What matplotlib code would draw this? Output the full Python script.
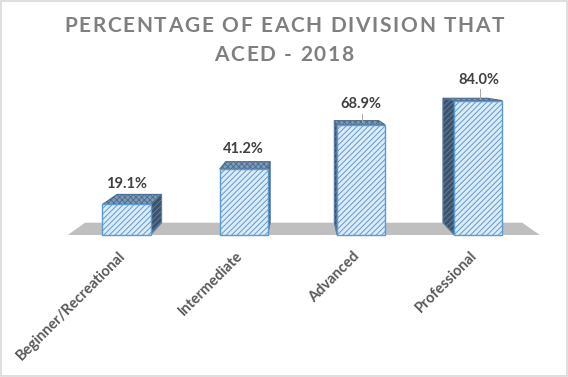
import matplotlib
matplotlib.use("Agg")
import matplotlib.pyplot as plt
from matplotlib.patches import Polygon, Rectangle
from matplotlib.font_manager import FontProperties

categories = ["Beginner/Recreational", "Intermediate", "Advanced", "Professional"]
values = [19.1, 41.2, 68.9, 84.0]
labels = ["19.1%", "41.2%", "68.9%", "84.0%"]
title = "PERCENTAGE OF EACH DIVISION THAT\nACED - 2018"

plt.rcParams["font.family"] = ["Lato", "DejaVu Sans"]
plt.rcParams["hatch.linewidth"] = 0.7

# fake 3D: back face = front face pulled toward a vanishing point
VX, VY = 1.48, 104.0
K = 0.074
BAR_W = 0.41


def back(pt, k=K):
    return (pt[0] + k * (VX - pt[0]), pt[1] + k * (VY - pt[1]))


fig = plt.figure(figsize=(5.68, 3.77), dpi=100)
ax = fig.add_axes([0, 0, 1, 1])
ax.set_xlim(-1.078, 3.764)
ax.set_ylim(-88.75, 146.9)
ax.axis("off")

# floor
fl = [(-0.5, 0), (3.525, 0)]
floor = [fl[0], fl[1], back(fl[1]), back(fl[0])]
ax.add_patch(Polygon(floor, closed=True, facecolor="#BFBFBF", edgecolor="none", zorder=1))

for i, v in enumerate(values):
    xl, xr = i - BAR_W / 2, i + BAR_W / 2
    ftl, ftr, fbl, fbr = (xl, v), (xr, v), (xl, 0), (xr, 0)
    # side face
    if i < VX:
        side = [fbr, ftr, back(ftr), back(fbr)]
    else:
        side = [fbl, ftl, back(ftl), back(fbl)]
    ax.add_patch(Polygon(side, closed=True, facecolor="#3E5266", edgecolor="#5B7FA6",
                         hatch="//////", linewidth=0.8, zorder=2))
    # top face
    top = [ftl, ftr, back(ftr), back(ftl)]
    ax.add_patch(Polygon(top, closed=True, facecolor="#7E9CB9", edgecolor="#4F6E8E",
                         hatch="xxxxxx", linewidth=0.8, zorder=3))
    # front face
    ax.add_patch(Rectangle((xl, 0), BAR_W, v, facecolor="#DDEBF7", edgecolor="#5B9BD5",
                           hatch="//////", linewidth=1.0, zorder=4))
    # value label
    ax.text(i, v + 8.5, labels[i], ha="center", va="bottom", fontsize=10.5,
            fontweight="bold", color="#404040", zorder=5)
    if v > 60:
        ax.plot([i + 0.01, i + 0.01], [v + 1.5, v + 7.0], color="#A6A6A6", lw=0.7, zorder=5)
    # category label
    ax.text(i - 0.07, -8.5, categories[i], ha="right", va="top", rotation=45,
            rotation_mode="anchor", fontsize=10.5, fontweight="bold", color="#595959")

# title with letter spacing: place each character by hand
renderer = fig.canvas.get_renderer()
prop = FontProperties(family=["Lato", "DejaVu Sans"], weight="bold", size=15)
W, H = fig.get_size_inches() * fig.dpi
bar_w = renderer.get_text_width_height_descent("|", prop, ismath=False)[0]


def text_w(s):
    return renderer.get_text_width_height_descent(s + "|", prop, ismath=False)[0] - bar_w


TRACK = 1.7
for line, yf in zip(title.split("\n"), [0.932, 0.854]):
    total = text_w(line) + TRACK * (len(line) - 1)
    x0 = W / 2 - total / 2
    for j, ch in enumerate(line):
        if ch == " ":
            continue
        xp = x0 + text_w(line[:j]) + TRACK * j
        fig.text(xp / W, yf, ch, ha="left", va="center", fontproperties=prop,
                 color="#7F7F7F")

fig.patches.append(Rectangle((0.001, 0.002), 0.997, 0.995, transform=fig.transFigure,
                             fill=False, edgecolor="#D9D9D9", linewidth=1.2))

fig.savefig("out.png", dpi=100)
